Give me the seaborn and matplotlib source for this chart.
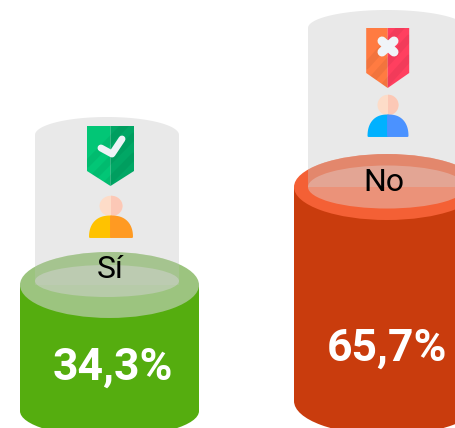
import numpy as np
import pandas as pd
import seaborn as sns
import matplotlib.pyplot as plt
from matplotlib.patches import Ellipse, Polygon, Rectangle

categories = ['Sí', 'No']
values = [34.3, 65.7]
value_labels = ['34,3%', '65,7%']

W, H = 456, 428
# pixels per percent point and the pixel row of value 0
px_per_unit = 3.12
zero_row = 392
center_x = [109.5, 387]
body_w = [179, 186]
glass_x = [107, 387]
glass_w = [144, 158]
glass_top = [135, 28]
glass_ry = [16, 21.5]
base_row = [411, 401]
base_ry = [26, 34]
body_color = ['#55ad0f', '#c93c0d']
cap_color = ['#9cc47f', '#f46035']
wall_alpha = [0.22, 0.38]
floor_color = ['#d3d3d3', '#e4c4bd']

sns.set_theme(style='white')
plt.rcParams['font.family'] = ['Roboto', 'DejaVu Sans']

fig = plt.figure(figsize=(W / 100, H / 100), dpi=100)
ax = fig.add_axes([0, 0, 1, 1])
df = pd.DataFrame({'categoria': categories, 'valor': values})
sns.barplot(data=df, x='categoria', y='valor', hue='categoria', palette=body_color,
            legend=False, width=0.645, linewidth=0, saturation=1, ax=ax)
unit = center_x[1] - center_x[0]
ax.set_xlim(-center_x[0] / unit, (W - center_x[0]) / unit)
ax.set_ylim((zero_row - H) / px_per_unit, zero_row / px_per_unit)
ax.axis('off')
for patch, w, c in zip(ax.patches, body_w, center_x):
    patch.set_width(w / unit)
    patch.set_x((c - center_x[0] - w / 2) / unit)

# overlay in pixel coordinates for the cylinder caps, glass and icons
ov = fig.add_axes([0, 0, 1, 1], facecolor='none')
ov.set_xlim(0, W)
ov.set_ylim(H, 0)
ov.axis('off')


def shield(cx, top, half, bg_l, bg_r):
    shoulder = top + 45
    tip = top + 60
    ov.add_patch(Polygon([(cx - half, top), (cx, top), (cx, tip), (cx - half, shoulder)], fc=bg_l, lw=0))
    ov.add_patch(Polygon([(cx, top), (cx + half, top), (cx + half, shoulder), (cx, tip)], fc=bg_r, lw=0))
    # faint diagonal stripes
    outline = Polygon([(cx - half, top), (cx + half, top), (cx + half, shoulder), (cx, tip), (cx - half, shoulder)],
                      transform=ov.transData)
    for off in [14, 34, 54, 74]:
        line, = ov.plot([cx - half, cx + half], [top + off + 24, top + off - 24], color='black',
                        alpha=0.05, lw=5)
        line.set_clip_path(outline)


def person(cx, head_y, half, rx, body_l, body_r):
    top = head_y + 10
    ov.add_patch(Ellipse((cx, head_y), 2 * rx, 20.5, fc='#fddcc8', lw=0))
    head_r = Ellipse((cx, head_y), 2 * rx, 20.5, fc='#fcc8b6', lw=0)
    ov.add_patch(head_r)
    head_r.set_clip_path(Rectangle((cx, head_y - 11), rx + 1, 22, transform=ov.transData))
    t = np.linspace(0, np.pi / 2, 30)
    for color, sign in [(body_l, -1), (body_r, 1)]:
        xs = cx + sign * (half - 1) * np.sin(t) ** 0.8
        ys = top + 21 - 20.5 * np.cos(t) ** 0.9
        pts = list(zip(xs, ys)) + [(cx, top + 21)]
        ov.add_patch(Polygon(pts, fc=color, ec=color, lw=1.4, joinstyle='round'))


for i in range(2):
    c = center_x[i]
    top = zero_row - values[i] * px_per_unit
    w = body_w[i]
    g = glass_w[i]
    gc = glass_x[i]
    ry = glass_ry[i]
    # glass behind the cap, one single shape so the alpha does not double up
    t = np.linspace(np.pi, 0, 60)
    ov.add_patch(Polygon(list(zip(gc + g / 2 * np.cos(t), glass_top[i] - 18 * np.sin(t)))
                         + [(gc + g / 2, top), (gc - g / 2, top)], fc='#e9e9e9', lw=0))
    # bottom of the cylinder below the zero line
    ov.add_patch(Rectangle((c - w / 2, zero_row - 1), w, base_row[i] - zero_row + 1, fc=body_color[i], lw=0))
    ov.add_patch(Ellipse((c, base_row[i]), w, 2 * base_ry[i], fc=body_color[i], lw=0))
    cap = Ellipse((c, top), w, 66, fc=cap_color[i], lw=0)
    ov.add_patch(cap)
    # faint glass wall over the back of the cap
    wall = Rectangle((gc - g / 2, top - 40), g, 40, fc='#c8c8c8', alpha=wall_alpha[i], lw=0)
    ov.add_patch(wall)
    wall.set_clip_path(cap)
    # glass floor seen through the cap
    floor_y = top - 4 if i == 0 else top
    ov.add_patch(Ellipse((gc, floor_y), g, 2 * ry, fc=floor_color[i], alpha=0.5, lw=0))

shield(110.5, 126, 23.5, '#02c676', '#01a765')
person(111, 206, 22, 11.5, '#ffc200', '#ff9a22')
shield(387.7, 28, 21.5, '#ff7b41', '#ff3f5f')
person(388, 105, 20.5, 10.5, '#00b1ff', '#4b92ff')

# check and cross marks on the shields
ov.plot([101, 112, 122], [148, 154, 139], color='#eef3f6', lw=5, solid_capstyle='round', solid_joinstyle='round')
ov.plot([382, 394], [41, 52], color='#f0f4f8', lw=6.5, solid_capstyle='round')
ov.plot([394, 382], [41, 52], color='#f0f4f8', lw=6.5, solid_capstyle='round')

label_pos = [(110, 270), (384, 182)]
pct_pos = [(113, 380), (387, 361)]
for i in range(2):
    ov.text(*label_pos[i], categories[i], color='black', fontsize=23, ha='center', va='center')
    ov.text(*pct_pos[i], value_labels[i], color='white', fontsize=32, fontweight='bold', ha='center', va='baseline')

fig.savefig('out.png', dpi=100, facecolor='white')
